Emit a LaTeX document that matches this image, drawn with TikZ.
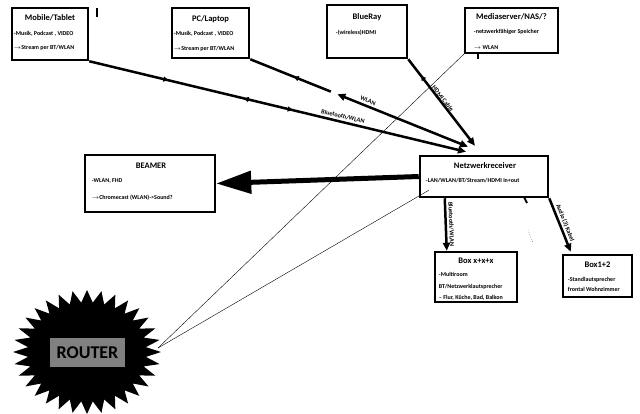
\documentclass[tikz,border=0pt]{standalone}
\usepackage{fontspec}
\setmainfont{Carlito}
\usetikzlibrary{calc,arrows.meta,decorations.markings}

\tikzset{
  devbox/.style={draw, line width=2.5pt, inner sep=0pt},
  boxtitle/.style={font=\bfseries\fontsize{8.5}{9}\selectfont, inner sep=0pt},
  boxtext/.style={font=\bfseries\fontsize{6}{6.5}\selectfont, inner sep=0pt, anchor=west},
  link/.style={line width=2.5pt},
  linklabel/.style={font=\bfseries\fontsize{6.2}{6.2}\selectfont, inner sep=0pt},
  wire/.style={line width=0.4pt},
  flowmark/.style={postaction={decorate,decoration={markings,
      mark=at position #1 with {\arrow{Triangle[length=5pt,width=5pt]}}}}},
  backmark/.style={postaction={decorate,decoration={markings,
      mark=at position #1 with {\arrowreversed{Triangle[length=5pt,width=5pt]}}}}},
}

\begin{document}
\begin{tikzpicture}[x=1pt,y=-1pt,>={Triangle[length=8pt,width=7pt]}]
			\useasboundingbox (0,0) rectangle (640,413);
			%%%%% DEVICES %%%%%
			\node[devbox, minimum width=76pt, minimum height=52pt] (mobile) at (50,34) {};
			\node[boxtitle] (mobile-t) at ($(mobile.north)+(0,11)$) {Mobile/Tablet};
			\node[boxtext] (mobile-a) at ($(mobile.north west)+(3,27)$) {-Musik, Podcast , VIDEO};
			\node[boxtext] (mobile-b) at ($(mobile.north west)+(3,41)$) {$\rightarrow$Stream per BT/WLAN};
			
			\node[devbox, minimum width=77pt, minimum height=50pt] (pc) at (210.5,33) {};
			\node[boxtitle] (pc-t) at ($(pc.north)+(0,12)$) {PC/Laptop};
			\node[boxtext] (pc-a) at ($(pc.north west)+(3,27)$) {-Musik, Podcast , VIDEO};
			\node[boxtext] (pc-b) at ($(pc.north west)+(3,42)$) {$\rightarrow$Stream per BT/WLAN};
			
			\node[devbox, minimum width=80pt, minimum height=53pt] (blueray) at (367,31.5) {};
			\node[boxtitle] (blueray-t) at ($(blueray.north)+(0,13)$) {BlueRay};
			\node[boxtext] (blueray-a) at ($(blueray.north west)+(10,29)$) {-(wireless)HDMI};
			
			\node[devbox, minimum width=93pt, minimum height=45pt] (media) at (511.5,30.5) {};
			\node[boxtitle] (media-t) at ($(media.north)+(0,10)$) {Mediaserver/NAS/?};
			\node[boxtext] (media-a) at ($(media.north west)+(10,25)$) {-netzwerkfähiger Speicher};
			\node[boxtext] (media-b) at ($(media.north west)+(10,41)$) {$\rightarrow$ WLAN};
			
			\node[devbox, minimum width=130pt, minimum height=57pt] (beamer) at (150,183.5) {};
			\node[boxtitle] (beamer-t) at ($(beamer.north)+(1,12)$) {BEAMER};
			\node[boxtext] (beamer-a) at ($(beamer.north west)+(8,27)$) {-WLAN, FHD};
			\node[boxtext] (beamer-b) at ($(beamer.north west)+(8,44)$) {$\rightarrow$Chromecast (WLAN)->Sound?};
			
			\node[devbox, minimum width=128pt, minimum height=41pt] (recv) at (484,176.5) {};
			\node[boxtitle] (recv-t) at ($(recv.north)+(1,11)$) {Netzwerkreceiver};
			\node[boxtext] (recv-a) at ($(recv.north west)+(7,26)$) {-LAN/WLAN/BT/Stream/HDMI in+out};
			
			\node[devbox, minimum width=82pt, minimum height=50pt] (boxx) at (476,277) {};
			\node[boxtitle] (boxx-t) at ($(boxx.north)+(0,10)$) {Box x+x+x};
			\node[boxtext] (boxx-a) at ($(boxx.north west)+(5,24)$) {-Multiroom};
			\node[boxtext] (boxx-b) at ($(boxx.north west)+(5,36)$) {BT/Netzwerklautsprecher};
			\node[boxtext] (boxx-c) at ($(boxx.north west)+(5,47)$) {– Flur, Küche, Bad, Balkon};
			
			\node[devbox, minimum width=69pt, minimum height=42pt] (box12) at (597.5,276) {};
			\node[boxtitle] (box12-t) at ($(box12.north)+(0,11)$) {Box1+2};
			\node[boxtext] (box12-a) at ($(box12.north west)+(6,26)$) {-Standlautsprecher};
			\node[boxtext] (box12-b) at ($(box12.north west)+(6,36)$) {frontal Wohnzimmer};
			
			%%%%% ROUTER %%%%%
			\fill plot[domain=0:64, samples=65, variable=\k]
			({87+74*(0.9+0.1*cos(180*\k))*cos(5.625*\k)}, {352+62*(0.9+0.1*cos(180*\k))*sin(5.625*\k)}) -- cycle;
			\node[fill=black!50, minimum width=75pt, minimum height=29pt, inner sep=0pt,
			  font=\bfseries\fontsize{18}{18}\selectfont] (router) at (87.5,352.5) {ROUTER};
			\coordinate (rtip) at (158,348);
			
			%%%%% CONNECTIONS %%%%%
			\coordinate (mobend) at ($(recv.north)+(-18,-3)$);
			\coordinate (pcend) at ($(recv.north)+(-16,-8)$);
			\coordinate (hdmiend) at ($(recv.north)+(-9,-9)$);
			\coordinate (pcgapA) at ($(pc.south east)!0.37!(pcend)$);
			\coordinate (pcgapB) at ($(pc.south east)!0.40!(pcend)$);
			
			\draw[link, ->, flowmark=0.21, backmark=0.41, flowmark=0.54] (mobile.south east) -- (mobend)
			  node[linklabel, pos=0.67, sloped, above=2pt] {Bluetooth/WLAN};
			\draw[link, backmark=0.54] (pc.south east) -- (pcgapA);
			\draw[link, <->] (pcgapB) -- (pcend)
			  node[linklabel, pos=0.22, sloped, above=2pt] {WLAN};
			\draw[link, ->, backmark=0.19] (blueray.south east) -- (hdmiend)
			  node[linklabel, pos=0.48, sloped, above=0pt] {HDMI Cable};
			
			\draw[line width=5pt, -{Triangle[length=35pt,width=22pt]}] (recv.west) -- (beamer.east);
			\draw[link, ->] ($(recv.south west)+(26,0)$) -- ($(boxx.north west)+(13,0)$)
			  node[linklabel, midway, sloped, above=2pt] {Bluetooth/WLAN};
			\draw[link, ->] (recv.south east) -- ($(box12.north west)+(9,-2)$)
			  node[linklabel, midway, sloped, above=1.5pt] {Audio (3) Kabel};
			
			\draw[wire] (media.south west) -- (rtip);
			\draw[wire] ($(recv.south west)+(10,-8)$) -- (rtip);
			
			% loose marks
			\draw[line width=1.5pt] (97,8) -- (97,17);
			\draw[line width=2pt] (478,54) -- (478,59);
			\draw[line width=2pt] (524,197) -- (527,203);
			\draw[wire, dotted] (528,230) -- (533,243);
\end{tikzpicture}
\end{document}
